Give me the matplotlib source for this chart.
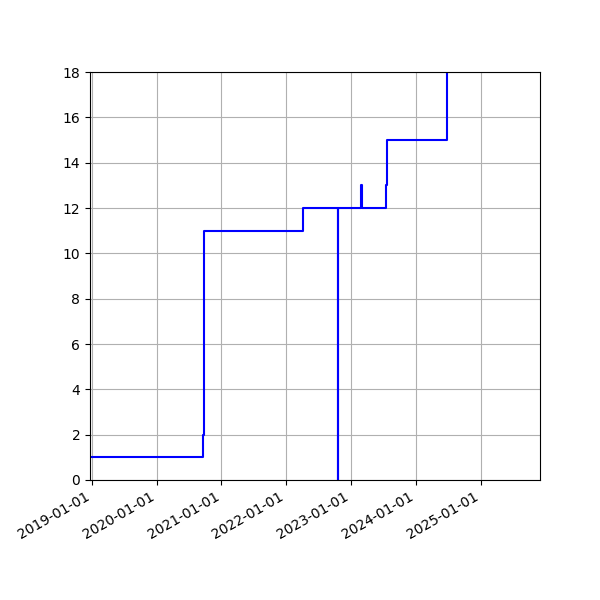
import pandas as pd
import matplotlib
matplotlib.use('Agg')
import matplotlib.pyplot as plt
import matplotlib.dates as mdates

dates = ['2018-12-22', '2020-09-18', '2020-09-22', '2022-04-05', '2022-10-20',
         '2022-10-21', '2023-02-25', '2023-03-03', '2023-07-15', '2023-07-21',
         '2024-06-25', '2025-12-01']
counts = [1, 2, 11, 12, 0, 12, 13, 12, 13, 15, 19, 19]


def plot_data(dates, counts):
    x = pd.to_datetime(dates)
    fig, ax = plt.subplots(figsize=(6, 6), dpi=100)
    ax.plot(x[:-1], counts[:-1], color='blue', drawstyle='steps-post')
    ax.set_xlim(pd.Timestamp('2018-12-22'), pd.Timestamp('2025-12-01'))
    ax.set_ylim(0, 18)
    ax.xaxis.set_major_locator(mdates.YearLocator())
    ax.xaxis.set_major_formatter(mdates.DateFormatter('%Y-%m-%d'))
    ax.grid(True)
    fig.autofmt_xdate()
    fig.subplots_adjust(left=0.15)
    fig.savefig('out.png')


def main():
    plot_data(dates, counts)


if __name__ == "__main__":
    main()
